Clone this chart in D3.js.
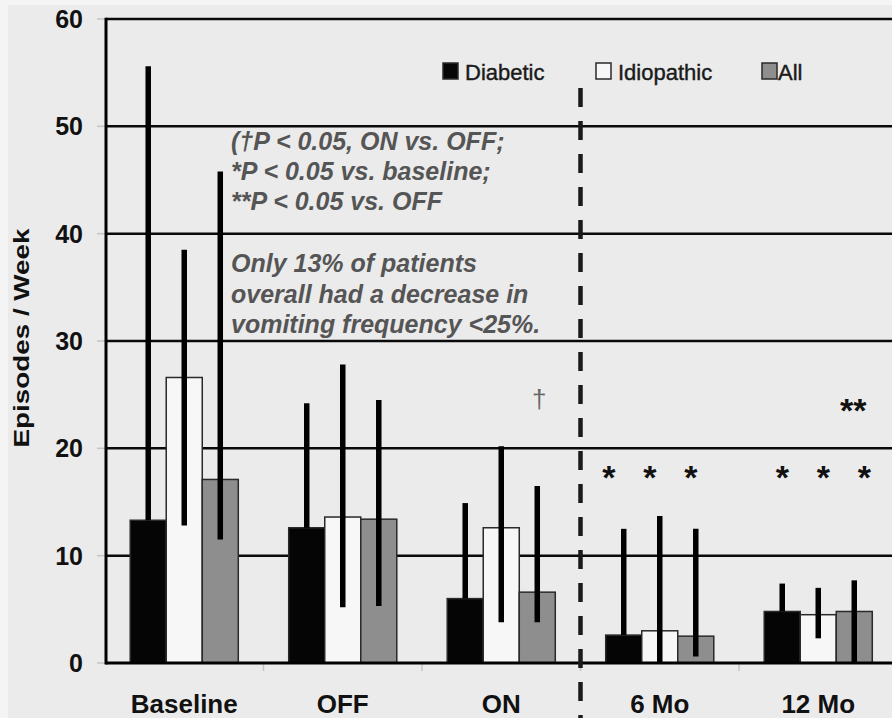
<!DOCTYPE html>
<html>
<head>
<meta charset="utf-8">
<script src="https://cdn.jsdelivr.net/npm/d3@7"></script>
<style>
  body { margin: 0; background: #f4f4f4; }
  svg { display: block; font-family: "Liberation Sans", Arial, sans-serif; }
</style>
</head>
<body>
<script>
// datos
var categorias = ["Baseline", "OFF", "ON", "6 Mo", "12 Mo"];
var series = ["Diabetic", "Idiopathic", "All"];

var diabetic = [13.3, 12.6, 6.0, 2.6, 4.8];
var idiopathic = [26.6, 13.6, 12.6, 3.0, 4.5];
var todos = [17.1, 13.4, 6.6, 2.5, 4.8];

var diabeticHi = [55.6, 24.2, 14.9, 12.5, 7.4];
var idiopathicHi = [38.5, 27.8, 20.2, 13.7, 7.0];
var todosHi = [45.8, 24.5, 16.5, 12.5, 7.7];

// el limite inferior de Diabetic queda tapado por la barra negra
var diabeticLo = [null, null, null, null, null];
var idiopathicLo = [12.8, 5.2, 3.8, 0, 2.3];
var todosLo = [11.5, 5.3, 3.8, 0.6, 0];

var yTicks = [0, 10, 20, 30, 40, 50, 60];

var notaP = ["(\u2020P < 0.05, ON vs. OFF;", "*P < 0.05 vs. baseline;", "**P < 0.05 vs. OFF"];
var notaPct = ["Only 13% of patients", "overall had a decrease in", "vomiting frequency <25%."];

var colores = { "Diabetic": "#050505", "Idiopathic": "#f7f7f7", "All": "#8e8e8e" };

var filas = categorias.map(function (c, i) {
  return {
    cat: c,
    vals: [
      { s: "Diabetic", v: diabetic[i], lo: diabeticLo[i], hi: diabeticHi[i] },
      { s: "Idiopathic", v: idiopathic[i], lo: idiopathicLo[i], hi: idiopathicHi[i] },
      { s: "All", v: todos[i], lo: todosLo[i], hi: todosHi[i] }
    ]
  };
});

var ancho = 892, alto = 718;

var svg = d3.select("body")
  .append("svg")
  .attr("width", ancho)
  .attr("height", alto);

// fondo
svg.append("rect")
  .attr("x", 8).attr("y", 5)
  .attr("width", ancho).attr("height", alto)
  .attr("fill", "#ebebeb");

var yScale = d3.scaleLinear()
  .domain([0, 60])
  .range([663, 19]);

var x0 = d3.scaleBand()
  .domain(categorias)
  .range([105, 897.5])
  .padding(0);

var x1 = d3.scaleBand()
  .domain(series)
  .range([0, x0.bandwidth()])
  .paddingInner(0)
  .paddingOuter(0.7);

// lineas de rejilla
svg.append("g")
  .selectAll("line")
  .data(yTicks.slice(1))
  .enter()
  .append("line")
  .attr("x1", 106)
  .attr("x2", ancho)
  .attr("y1", function (d) { return yScale(d); })
  .attr("y2", function (d) { return yScale(d); })
  .attr("stroke", "#0a0a0a")
  .attr("stroke-width", 2.5);

// marcas del eje y
svg.append("g")
  .selectAll("line")
  .data(yTicks)
  .enter()
  .append("line")
  .attr("x1", 97)
  .attr("x2", 106)
  .attr("y1", function (d) { return yScale(d); })
  .attr("y2", function (d) { return yScale(d); })
  .attr("stroke", "#c4c4c4")
  .attr("stroke-width", 1.5);

// marcas del eje x entre grupos
svg.append("g")
  .selectAll("line")
  .data(categorias.slice(1))
  .enter()
  .append("line")
  .attr("x1", function (d) { return x0(d); })
  .attr("x2", function (d) { return x0(d); })
  .attr("y1", yScale(0))
  .attr("y2", yScale(0) + 8)
  .attr("stroke", "#c4c4c4")
  .attr("stroke-width", 1.5);

var grupos = svg.append("g")
  .selectAll("g")
  .data(filas)
  .enter()
  .append("g")
  .attr("transform", function (d) { return "translate(" + x0(d.cat) + ",0)"; });

grupos.selectAll("rect")
  .data(function (d) { return d.vals; })
  .enter()
  .append("rect")
  .attr("x", function (d) { return x1(d.s); })
  .attr("y", function (d) { return yScale(d.v); })
  .attr("width", x1.bandwidth())
  .attr("height", function (d) { return yScale(0) - yScale(d.v); })
  .attr("fill", function (d) { return colores[d.s]; })
  .attr("stroke", "#2a2a2a")
  .attr("stroke-width", 1.5);

// barras de error
grupos.selectAll("line.err")
  .data(function (d) { return d.vals; })
  .enter()
  .append("line")
  .attr("class", "err")
  .attr("x1", function (d) { return x1(d.s) + x1.bandwidth() / 2; })
  .attr("x2", function (d) { return x1(d.s) + x1.bandwidth() / 2; })
  .attr("y1", function (d) { return yScale(d.lo === null ? d.v : d.lo); })
  .attr("y2", function (d) { return yScale(d.hi); })
  .attr("stroke", "#000")
  .attr("stroke-width", 5.5);

// ejes
svg.append("line")
  .attr("x1", 106).attr("x2", 106)
  .attr("y1", yScale(60) - 1.2).attr("y2", yScale(0) + 1.5)
  .attr("stroke", "#000")
  .attr("stroke-width", 3);

svg.append("line")
  .attr("x1", 106).attr("x2", ancho)
  .attr("y1", yScale(0)).attr("y2", yScale(0))
  .attr("stroke", "#000")
  .attr("stroke-width", 3);

// linea discontinua entre ON y 6 Mo
svg.append("line")
  .attr("x1", x0("6 Mo")).attr("x2", x0("6 Mo"))
  .attr("y1", 88).attr("y2", alto)
  .attr("stroke", "#1a1a1a")
  .attr("stroke-width", 4.5)
  .attr("stroke-dasharray", "19,14");

// etiquetas eje y
svg.append("g")
  .selectAll("text")
  .data(yTicks)
  .enter()
  .append("text")
  .attr("x", 83)
  .attr("y", function (d) { return yScale(d); })
  .attr("dy", "0.36em")
  .attr("text-anchor", "end")
  .attr("font-size", 25)
  .attr("font-weight", "bold")
  .attr("fill", "#111")
  .text(function (d) { return d; });

svg.append("text")
  .attr("transform", "translate(29,338) rotate(-90)")
  .attr("text-anchor", "middle")
  .attr("font-size", 22)
  .attr("font-weight", "bold")
  .attr("fill", "#111")
  .attr("textLength", 219)
  .attr("lengthAdjust", "spacingAndGlyphs")
  .text("Episodes / Week");

// etiquetas eje x
svg.append("g")
  .selectAll("text")
  .data(categorias)
  .enter()
  .append("text")
  .attr("x", function (d) { return x0(d) + x0.bandwidth() / 2; })
  .attr("y", 713)
  .attr("text-anchor", "middle")
  .attr("font-size", 26)
  .attr("font-weight", "bold")
  .attr("fill", "#111")
  .text(function (d) { return d; });

// leyenda
var leyendaX = [443, 596, 762];
var leyenda = svg.append("g")
  .selectAll("g")
  .data(series)
  .enter()
  .append("g")
  .attr("transform", function (d, i) { return "translate(" + leyendaX[i] + ",63)"; });

leyenda.append("rect")
  .attr("width", 15)
  .attr("height", 16)
  .attr("fill", function (d) { return colores[d]; })
  .attr("stroke", "#2a2a2a")
  .attr("stroke-width", 1.5);

leyenda.append("text")
  .attr("x", function (d) { return d === "All" ? 16 : 22; })
  .attr("y", 17)
  .attr("font-size", 22)
  .attr("fill", "#1a1a1a")
  .attr("stroke", "#1a1a1a")
  .attr("stroke-width", 0.4)
  .text(function (d) { return d; });

// notas
svg.append("g")
  .selectAll("text")
  .data(notaP)
  .enter()
  .append("text")
  .attr("x", 231)
  .attr("y", function (d, i) { return 150 + i * 30; })
  .attr("font-size", 25)
  .attr("font-style", "italic")
  .attr("font-weight", "bold")
  .attr("fill", "#555")
  .text(function (d) { return d; });

svg.append("g")
  .selectAll("text")
  .data(notaPct)
  .enter()
  .append("text")
  .attr("x", 231)
  .attr("y", function (d, i) { return 272 + i * 30.5; })
  .attr("font-size", 25)
  .attr("font-style", "italic")
  .attr("font-weight", "bold")
  .attr("fill", "#555")
  .text(function (d) { return d; });

// simbolos de significancia
svg.append("text")
  .attr("x", x0("ON") + x1("All") + x1.bandwidth() / 2 + 2)
  .attr("y", 408)
  .attr("text-anchor", "middle")
  .attr("font-size", 26)
  .attr("fill", "#666")
  .text("\u2020");

svg.append("text")
  .attr("x", x0("12 Mo") + x1("All") + x1.bandwidth() / 2 - 1)
  .attr("y", 422)
  .attr("text-anchor", "middle")
  .attr("font-size", 34)
  .attr("font-weight", "bold")
  .attr("fill", "#111")
  .text("**");

var estrellas = [
  { cat: "6 Mo", off: -10 },
  { cat: "12 Mo", off: 5 }
];
estrellas.forEach(function (e) {
  svg.append("g")
    .selectAll("text")
    .data(series)
    .enter()
    .append("text")
    .attr("x", function (d, i) { return x0(e.cat) + x0.bandwidth() / 2 + (i - 1) * 41 + e.off; })
    .attr("y", 489)
    .attr("text-anchor", "middle")
    .attr("font-size", 34)
    .attr("font-weight", "bold")
    .attr("fill", "#111")
    .text("*");
});
</script>
</body>
</html>
